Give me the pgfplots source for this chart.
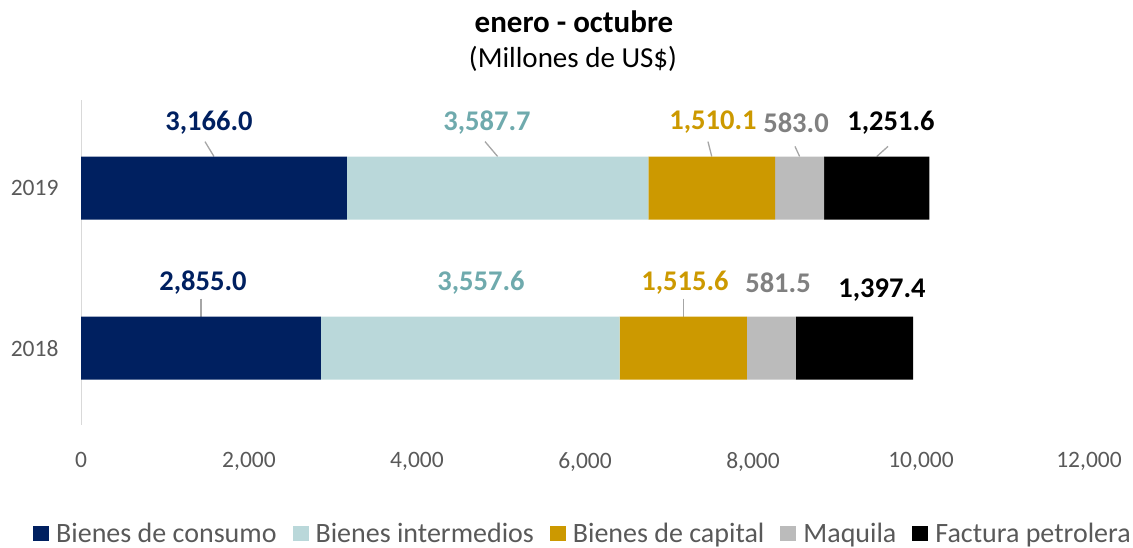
\documentclass[border=0pt]{standalone}
\usepackage{fontspec}
\setmainfont{Carlito}
\usepackage{pgfplots}
\pgfplotsset{compat=1.18}
\definecolor{cNavy}{HTML}{002060}
\definecolor{cTeal}{HTML}{BAD8DA}
\definecolor{cTealT}{HTML}{6FAAAD}
\definecolor{cGold}{HTML}{CC9900}
\definecolor{cGray}{HTML}{BBBBBB}
\definecolor{cGrayT}{HTML}{808080}
\definecolor{cTxt}{HTML}{595959}
\definecolor{cLead}{HTML}{A6A6A6}
\definecolor{cAxis}{HTML}{D9D9D9}
\begin{document}
\begin{tikzpicture}
\useasboundingbox (0,0) rectangle (1133pt,548pt);
\node[font=\fontsize{31}{34}\selectfont\bfseries, text=black] at (574pt,526pt) {enero - octubre};
\node[font=\fontsize{29}{32}\selectfont, text=black] at (573pt,489pt) {(Millones de US\$)};
\begin{axis}[
  at={(81pt,123pt)}, anchor=south west,
  scale only axis, width=1008pt, height=325pt,
  xbar stacked, bar width=63pt,
  xmin=0, xmax=12000, ymin=-0.48, ymax=1.55,
  ytick={0,1}, yticklabels={2018,2019},
  xtick={0,2000,4000,6000,8000,10000,12000},
  scaled x ticks=false,
  /pgf/number format/assume math mode=true,
  /pgf/number format/1000 sep={,},
  ticklabel style={font=\fontsize{23.5}{26}\selectfont, text=cTxt},
  xticklabel style={yshift=-24pt},
  yticklabel style={xshift=-19pt},
  axis line style={draw=none},
  major tick length=0pt,
  clip=false,
  legend columns=5,
  legend style={draw=none, fill=none, at={(0.497,-0.334)}, anchor=center,
    font=\fontsize{28}{32}\selectfont, text=cTxt,
    nodes={inner xsep=0pt},
    /tikz/every odd column/.append style={column sep=7pt},
    /tikz/every even column/.append style={column sep=16pt}},
  legend image code/.code={\fill[#1] (0pt,-7.5pt) rectangle (16pt,7.5pt);},
]
\addplot[fill=cNavy, draw=none] coordinates {(2855.0,0) (3166.0,1)};
\addplot[fill=cTeal, draw=none] coordinates {(3557.6,0) (3587.7,1)};
\addplot[fill=cGold, draw=none] coordinates {(1515.6,0) (1510.1,1)};
\addplot[fill=cGray, draw=none] coordinates {(581.5,0) (583.0,1)};
\addplot[fill=black, draw=none] coordinates {(1397.4,0) (1251.6,1)};
\legend{Bienes de consumo, Bienes intermedios, Bienes de capital, Maquila, Factura petrolera}
\draw[cAxis, line width=1pt] (axis cs:0,-0.48) -- (axis cs:0,1.55);
% leader lines
\draw[cLead, line width=1.3pt] (axis cs:1476,1.29) -- (axis cs:1583,1.197);
\draw[cLead, line width=1.3pt] (axis cs:4810,1.29) -- (axis cs:4960,1.197);
\draw[cLead, line width=1.3pt] (axis cs:7464,1.29) -- (axis cs:7509,1.197);
\draw[cLead, line width=1.3pt] (axis cs:8500,1.26) -- (axis cs:8555,1.197);
\draw[cLead, line width=1.3pt] (axis cs:9607,1.26) -- (axis cs:9473,1.197);
\draw[cLead, line width=1.3pt] (axis cs:1428,0.31) -- (axis cs:1428,0.197);
\draw[cLead, line width=1.3pt] (axis cs:7170,0.31) -- (axis cs:7170,0.197);
% data labels
\node[font=\fontsize{28.5}{32}\selectfont\bfseries, text=cNavy] at (axis cs:1524,1.41) {3,166.0};
\node[font=\fontsize{28.5}{32}\selectfont\bfseries, text=cTealT] at (axis cs:4833,1.41) {3,587.7};
\node[font=\fontsize{28.5}{32}\selectfont\bfseries, text=cGold] at (axis cs:7524,1.41) {1,510.1};
\node[font=\fontsize{28.5}{32}\selectfont\bfseries, text=cGrayT] at (axis cs:8512,1.41) {583.0};
\node[font=\fontsize{28.5}{32}\selectfont\bfseries, text=black] at (axis cs:9643,1.41) {1,251.6};
\node[font=\fontsize{28.5}{32}\selectfont\bfseries, text=cNavy] at (axis cs:1452,0.41) {2,855.0};
\node[font=\fontsize{28.5}{32}\selectfont\bfseries, text=cTealT] at (axis cs:4762,0.41) {3,557.6};
\node[font=\fontsize{28.5}{32}\selectfont\bfseries, text=cGold] at (axis cs:7190,0.41) {1,515.6};
\node[font=\fontsize{28.5}{32}\selectfont\bfseries, text=cGrayT] at (axis cs:8298,0.41) {581.5};
\node[font=\fontsize{28.5}{32}\selectfont\bfseries, text=black] at (axis cs:9536,0.36) {1,397.4};
\end{axis}
\end{tikzpicture}
\end{document}
